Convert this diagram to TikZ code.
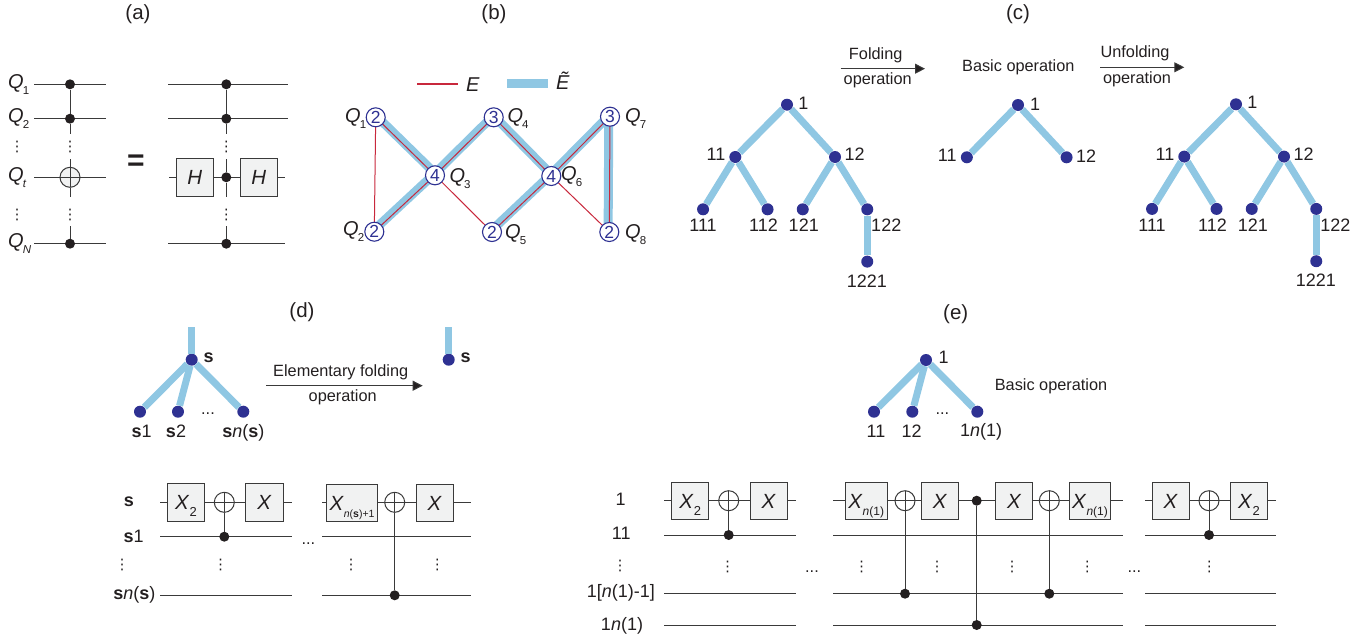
\documentclass[tikz,border=0pt]{standalone}
\usepackage{fontspec}
\setmainfont{Liberation Sans}
\newfontfamily\symbfont{DejaVu Sans}
\usetikzlibrary{positioning, arrows.meta, backgrounds}

\definecolor{inkcol}{HTML}{231F20}
\definecolor{wirecol}{HTML}{3A3A3A}
\definecolor{boxgray}{HTML}{F1F2F2}
\definecolor{treeblue}{HTML}{8FC7E3}
\definecolor{dotblue}{HTML}{2E3192}
\definecolor{edgered}{HTML}{C8283C}

\tikzset{
	plaintext/.style={inner sep=0pt, text=inkcol, font=\fontsize{16.3}{18}\selectfont},
	numtext/.style={inner sep=0pt, text=inkcol, font=\fontsize{18}{20}\selectfont},
	paneltag/.style={inner sep=0pt, text=inkcol, font=\fontsize{20.5}{22}\selectfont},
	qtext/.style={inner sep=0pt, anchor=base west, text=inkcol, font=\fontsize{20}{22}\selectfont},
	vd/.style={inner sep=0pt, text=inkcol, font=\symbfont\fontsize{14.5}{16}\selectfont},
	wire/.style={draw=wirecol, line width=1pt},
	gatebox/.style={draw=wirecol, fill=boxgray, line width=1pt, inner sep=0pt, minimum width=37.4pt,
		minimum height=37.4pt, text=inkcol, text height=14.6pt, text depth=0pt, font=\fontsize{20.5}{22}\selectfont},
	oplusnode/.style={circle, draw=wirecol, fill=white, line width=1pt, inner sep=0pt, minimum size=20pt,
		path picture={\draw[line width=1pt, draw=wirecol] (path picture bounding box.north) -- (path picture bounding box.south)
			(path picture bounding box.west) -- (path picture bounding box.east);}},
	ctrldot/.style={circle, fill=inkcol, inner sep=0pt, minimum size=10pt},
	treedot/.style={circle, fill=dotblue, inner sep=0pt, minimum size=12pt},
	treeedge/.style={draw=treeblue, line width=7pt},
	redge/.style={edgered, line width=1pt},
	bandedge/.style={draw=treeblue, line width=9pt},
	qnode/.style={circle, draw=dotblue, fill=white, line width=1.1pt, inner sep=0pt, minimum size=19pt,
		text=dotblue, font=\fontsize{17.5}{18}\selectfont},
	flowarrow/.style={draw=wirecol, line width=1pt, -{Triangle[length=10pt,width=10pt,fill=inkcol]}},
}

\newcommand{\qname}[2]{\textit{Q}\kern-1pt\raisebox{-6pt}{\fontsize{11.5}{13}\selectfont #2}}
\newcommand{\gatesub}[2][13]{\raisebox{-7pt}{\fontsize{#1}{13}\selectfont #2}}

% one folded tree, same shape each time
\newcommand{\foldtree}[3]{
	\node[treedot] (#1n1) at (#2,#3) {}
	child[xshift=-1.85pt] {node (#1n11) {}
		child {node (#1n111) {}}
		child {node (#1n112) {}}
	}
	child[xshift=-1.85pt] {node (#1n12) {}
		child {node (#1n121) {}}
		child {node (#1n122) {}
			child {node (#1n1221) {}}
		}
	};
	\node[numtext] at ([shift={(16.3,-1.7)}]#1n1) {1};
	\node[numtext] at ([shift={(-19.3,-2.7)}]#1n11) {11};
	\node[numtext] at ([shift={(19.7,-2.7)}]#1n12) {12};
	\node[numtext] at ([shift={(0,16.3)}]#1n111) {111};
	\node[numtext] at ([shift={(-4,16)}]#1n112) {112};
	\node[numtext] at ([shift={(1,16)}]#1n121) {121};
	\node[numtext] at ([shift={(19,16)}]#1n122) {122};
	\node[numtext] at ([shift={(-0.4,19.4)}]#1n1221) {1221};
}

\begin{document}
\begin{tikzpicture}[x=1pt, y=-1pt, level distance=52.3pt,
	level 1/.style={sibling distance=99.7pt},
	level 2/.style={sibling distance=64.5pt},
	every child node/.style={treedot},
	edge from parent/.style={treeedge, draw}]
	\useasboundingbox (0,0) rectangle (1362,640);

	% Panel tags
	\node[paneltag] (taga) at (138,14) {(a)};
	\node[paneltag] (tagb) at (494,14) {(b)};
	\node[paneltag] (tagc) at (1018,14) {(c)};
	\node[paneltag] (tagd) at (302,312) {(d)};
	\node[paneltag] (tage) at (955.7,314) {(e)};

	% Panel a, wires
	\foreach \wname/\xa/\xb/\yy in {al1/34/105.7/84.3, al2/34/105.7/118.7, al3/34/105.7/177.3, al4/34/105.7/243.7,
		ar1/168/288/84.3, ar2/168/288/118.7, ar3/169/285/177.3, ar4/168/285/243.7} {
		\coordinate (\wname L) at (\xa,\yy);
		\coordinate (\wname R) at (\xb,\yy);
		\draw[wire] (\wname L) -- (\wname R);
	}
	\node[qtext] (qa1) at (8,88.3) {\qname{Q}{1}};
	\node[qtext] (qa2) at (8,122.7) {\qname{Q}{2}};
	\node[qtext] (qat) at (8,181.3) {\qname{Q}{\textit{t}}};
	\node[qtext] (qan) at (8,247.7) {\qname{Q}{\textit{N}}};
	\node[vd] (vda1) at (17,147) {⋮};
	\node[vd] (vda2) at (17,215) {⋮};

	% Left gate of a
	\node[ctrldot] (ac1) at (70,84.3) {};
	\node[ctrldot] (ac2) at (70,118.7) {};
	\node[oplusnode, fill=boxgray] (aox) at (70,177.3) {};
	\node[ctrldot] (ac4) at (70,243.7) {};
	\coordinate (ag1) at (70,133.7);
	\coordinate (ag2) at (70,159);
	\coordinate (ag3) at (70,197);
	\coordinate (ag4) at (70,226);
	\draw[wire] (ac1) -- (ac2) -- (ag1);
	\draw[wire] (ag2) -- (aox);
	\draw[wire] (aox) -- (ag3);
	\draw[wire] (ag4) -- (ac4);
	\node[vd] (vda3) at (70,147) {⋮};
	\node[vd] (vda4) at (70,215) {⋮};

	\node[inner sep=0pt, text=inkcol, font=\bfseries\fontsize{30}{30}\selectfont] (eqsign) at (136,162.5) {=};

	% Right gate of a
	\node[ctrldot] (bc1) at (226.3,84.3) {};
	\node[ctrldot] (bc2) at (226.3,118.7) {};
	\node[ctrldot] (bc3) at (226.3,177.3) {};
	\node[ctrldot] (bc4) at (226.3,243.7) {};
	\coordinate (bg1) at (226.3,133.7);
	\coordinate (bg2) at (226.3,159);
	\coordinate (bg3) at (226.3,197);
	\coordinate (bg4) at (226.3,226);
	\draw[wire] (bc1) -- (bc2) -- (bg1);
	\draw[wire] (bg2) -- (bc3) -- (bg3);
	\draw[wire] (bg4) -- (bc4);
	\node[gatebox] (hl) at (194.7,177.3) {\textit{H}};
	\node[gatebox] (hr) at (258.7,177.3) {\textit{H}};
	\node[vd] (vda5) at (226.3,147) {⋮};
	\node[vd] (vda6) at (226.3,215) {⋮};

	% Panel b
	\coordinate (legra) at (417,84);
	\coordinate (legrb) at (458,84);
	\coordinate (legba) at (507,83.7);
	\coordinate (legbb) at (548,83.7);
	\draw[redge, line width=1.4pt] (legra) -- (legrb);
	\draw[bandedge] (legba) -- (legbb);
	\node[qtext, anchor=center] (lege) at (473,84.5) {\textit{E}};
	\node[qtext, anchor=center] (legt) at (563,81) {\textit{Ẽ}};

	\node[qnode] (Q1) at (375.7,117.3) {2};
	\node[qnode] (Q2) at (374.3,231.7) {2};
	\node[qnode] (Q3) at (435,175.3) {4};
	\node[qnode] (Q4) at (493.7,117.3) {3};
	\node[qnode] (Q5) at (492,232) {2};
	\node[qnode] (Q6) at (551.3,176) {4};
	\node[qnode] (Q7) at (610,116.7) {3};
	\node[qnode] (Q8) at (609.3,232) {2};
	\begin{scope}[on background layer]
		\foreach \qa/\qb/\dx/\dy in {Q1/Q3/0/-2, Q2/Q3/0/-2, Q3/Q4/0/-2, Q4/Q6/0/-1.5, Q5/Q6/0/-2, Q6/Q7/0/-2, Q7/Q8/-1.2/0}
			\draw[bandedge] ([shift={(\dx,\dy)}]\qa.center) -- ([shift={(\dx,\dy)}]\qb.center);
		\foreach \qa/\qb in {Q1/Q2, Q1/Q3, Q2/Q3, Q3/Q4, Q3/Q5, Q4/Q6, Q5/Q6, Q6/Q7, Q6/Q8, Q7/Q8}
			\draw[redge] (\qa.center) -- (\qb.center);
	\end{scope}
	\node[qtext] (lq1) at (345,122.7) {\qname{Q}{1}};
	\node[qtext] (lq2) at (343,235) {\qname{Q}{2}};
	\node[qtext] (lq3) at (449.3,182.7) {\qname{Q}{3}};
	\node[qtext] (lq4) at (507.3,122.7) {\qname{Q}{4}};
	\node[qtext] (lq5) at (505,238) {\qname{Q}{5}};
	\node[qtext] (lq6) at (561,180.7) {\qname{Q}{6}};
	\node[qtext] (lq7) at (625,122.7) {\qname{Q}{7}};
	\node[qtext] (lq8) at (625,238) {\qname{Q}{8}};

	% Panel c, trees
	\foldtree{L}{787}{104.7}
	\foldtree{R}{1236}{104.3}
	\node[treedot] (Bn1) at (1018,105) {}
	child[xshift=-1.3pt] {node (Bn11) {}}
	child[xshift=-1.3pt] {node (Bn12) {}};
	\node[numtext] (lbb1) at (1035,104) {1};
	\node[numtext] (lbb11) at (947.3,155) {11};
	\node[numtext] (lbb12) at (1086,156) {12};

	\coordinate (fa) at (840.7,68.7);
	\coordinate (fb) at (925,68.7);
	\draw[flowarrow] (fa) -- (fb);
	\node[plaintext] (ftop) at (875.7,55) {Folding};
	\node[plaintext] (fbot) at (877.7,80.7) {operation};
	\node[plaintext] (basicc) at (1018.3,67.3) {Basic operation};
	\coordinate (ua) at (1100,67.3);
	\coordinate (ub) at (1184.3,67.3);
	\draw[flowarrow] (ua) -- (ub);
	\node[plaintext] (utop) at (1135,53.3) {Unfolding};
	\node[plaintext] (ubot) at (1137,79.3) {operation};

	% Panel d, tree
	\node[treedot] (ds) at (191.7,359.7) {};
	\node[treedot] (ds1) at (140,411.7) {};
	\node[treedot] (ds2) at (178,411.7) {};
	\node[treedot] (dsn) at (243.3,411.7) {};
	\coordinate (dtop) at (191.7,327);
	\draw[treeedge] (dtop) -- (ds);
	\foreach \kid in {ds1, ds2, dsn}
		\draw[treeedge] (ds) -- (\kid);
	\node[numtext] (lds) at (208.7,358) {\textbf{s}};
	\node[numtext] (lds1) at (141.7,431.7) {\textbf{s}1};
	\node[numtext] (lds2) at (176,431.7) {\textbf{s}2};
	\node[numtext] (ldsn) at (243.3,433) {\textbf{s}\textit{n}(\textbf{s})};
	\node[plaintext] (ddots) at (208,414) {...};

	\coordinate (da) at (266,385.7);
	\coordinate (db) at (422.7,385.7);
	\draw[flowarrow] (da) -- (db);
	\node[plaintext] (dtxt1) at (340.7,372) {Elementary folding};
	\node[plaintext] (dtxt2) at (342.7,397.7) {operation};

	\node[treedot] (es) at (448.7,359.7) {};
	\coordinate (etop) at (448.7,327);
	\draw[treeedge] (etop) -- (es);
	\node[numtext] (les) at (465.7,358) {\textbf{s}};

	% Panel e, tree
	\node[treedot] (t1) at (926,360) {};
	\node[treedot] (t11) at (874,411.7) {};
	\node[treedot] (t12) at (912.3,411.7) {};
	\node[treedot] (t1n) at (977.3,411.7) {};
	\foreach \kid in {t11, t12, t1n}
		\draw[treeedge] (t1) -- (\kid);
	\node[numtext] (lt1) at (943.7,357.3) {1};
	\node[numtext] (lt11) at (876,431) {11};
	\node[numtext] (lt12) at (911.7,431) {12};
	\node[numtext] (lt1n) at (981,432) {1\textit{n}(1)};
	\node[plaintext] (tdots) at (942.3,414) {...};
	\node[plaintext] (basice) at (1051,386.7) {Basic operation};

	% Wires of d and e
	\foreach \wname/\xa/\xb/\yy in {dA1/160.3/291.7/502.3, dA2/160.3/291.7/536.7, dA3/160.3/291.7/595.3,
		dB1/322/470.7/502.3, dB2/322/470.7/536.7, dB3/322/470.7/595.3,
		eA1/664.3/795.7/500.7, eA2/664.3/795.7/535, eA3/664.3/795.7/593.7, eA4/664.3/795.7/625,
		eB1/833.3/1122.7/500.7, eB2/833.3/1122.7/535, eB3/833.3/1122.7/593.7, eB4/833.3/1122.7/625,
		eC1/1145/1276/500.7, eC2/1145/1276/535, eC3/1145/1276/593.7, eC4/1145/1276/625} {
		\coordinate (\wname L) at (\xa,\yy);
		\coordinate (\wname R) at (\xb,\yy);
		\draw[wire] (\wname L) -- (\wname R);
	}

	% Circuit of d
	\node[numtext] (cds) at (129,502) {\textbf{s}};
	\node[numtext] (cds1) at (133.7,536.7) {\textbf{s}1};
	\node[vd] (cdv) at (122,565) {⋮};
	\node[numtext] (cdsn) at (134.3,595) {\textbf{s}\textit{n}(\textbf{s})};
	\node[gatebox] (dx1) at (186,502.3) {\textit{X}\gatesub{2}};
	\node[oplusnode] (dp1) at (224.3,502.3) {};
	\node[ctrldot] (dc1) at (224.3,536.7) {};
	\draw[wire] (dp1) -- (dc1);
	\node[gatebox] (dx2) at (264.5,502.3) {\textit{X}};
	\node[vd] (dv1) at (220.7,565.3) {⋮};
	\node[plaintext] (ddots2) at (308.3,544) {...};
	\node[gatebox, minimum width=50.6pt] (dx3) at (352,502.8) {\textit{X}\gatesub[10.5]{\textit{n}(\textbf{s})+1}};
	\node[oplusnode] (dp2) at (394.7,502.3) {};
	\node[ctrldot] (dc2) at (394.7,595.3) {};
	\draw[wire] (dp2) -- (dc2);
	\node[gatebox] (dx4) at (434.7,502.8) {\textit{X}};
	\node[vd] (dv2) at (351,565.3) {⋮};
	\node[vd] (dv3) at (437.3,565.3) {⋮};

	% Circuit of e
	\node[numtext] (ce1) at (620.7,499.3) {1};
	\node[numtext] (ce11) at (621.3,533) {11};
	\node[vd] (cev) at (620,566) {⋮};
	\node[numtext, anchor=east] (ce1m) at (655,593) {1[\textit{n}(1)-1]};
	\node[numtext] (ce1n) at (622,626) {1\textit{n}(1)};
	\node[gatebox] (ex1) at (690.2,500.7) {\textit{X}\gatesub{2}};
	\node[oplusnode] (ep1) at (728.7,500.7) {};
	\node[ctrldot] (ec1) at (728.7,535) {};
	\draw[wire] (ep1) -- (ec1);
	\node[gatebox] (ex2) at (768.7,500.7) {\textit{X}};
	\node[vd] (ev1) at (727.7,566.7) {⋮};
	\node[plaintext] (edots1) at (812,571.7) {...};

	\node[gatebox, minimum width=41.7pt] (ex3) at (866.2,500.7) {\textit{X}\gatesub[12]{\textit{n}(1)}};
	\node[oplusnode] (ep2) at (905,500.7) {};
	\node[ctrldot] (ec2) at (905,593.7) {};
	\draw[wire] (ep2) -- (ec2);
	\node[gatebox] (ex4) at (940,500.7) {\textit{X}};
	\node[ctrldot] (ec3) at (976.7,500.7) {};
	\node[ctrldot] (ec4) at (976.7,625) {};
	\draw[wire] (ec3) -- (ec4);
	\node[gatebox] (ex5) at (1014.2,500.7) {\textit{X}};
	\node[oplusnode] (ep3) at (1049.3,500.7) {};
	\node[ctrldot] (ec5) at (1049.3,593.7) {};
	\draw[wire] (ep3) -- (ec5);
	\node[gatebox, minimum width=41.7pt] (ex6) at (1090,500.7) {\textit{X}\gatesub[12]{\textit{n}(1)}};
	\node[vd] (ev2) at (861.7,566.7) {⋮};
	\node[vd] (ev3) at (937,566.7) {⋮};
	\node[vd] (ev4) at (1012,566.7) {⋮};
	\node[vd] (ev5) at (1087.3,566.7) {⋮};
	\node[plaintext] (edots2) at (1134.3,571.7) {...};

	\node[gatebox] (ex7) at (1170.7,500.7) {\textit{X}};
	\node[oplusnode] (ep4) at (1209,500.7) {};
	\node[ctrldot] (ec6) at (1209,535) {};
	\draw[wire] (ep4) -- (ec6);
	\node[gatebox] (ex8) at (1249,500.7) {\textit{X}\gatesub{2}};
	\node[vd] (ev6) at (1209.3,566.7) {⋮};
\end{tikzpicture}
\end{document}
